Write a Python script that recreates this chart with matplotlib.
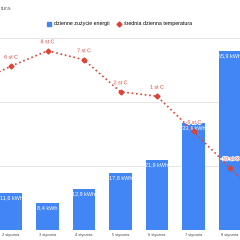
import numpy as np
import matplotlib
matplotlib.use('Agg')
import matplotlib.pyplot as plt
import matplotlib.patheffects as pe
from matplotlib.lines import Line2D
from matplotlib.patches import Patch

plt.rcParams['font.family'] = ['Liberation Sans', 'DejaVu Sans']

# data
dni = ['2 stycznia', '3 stycznia', '4 stycznia', '5 stycznia',
       '6 stycznia', '7 stycznia', '8 stycznia']
zuzycie = [11.6, 8.4, 12.9, 17.8, 21.9, 33.4, 55.9]
# temperature line runs one day past each edge of the crop
dni_temp = ['1 stycznia'] + dni + ['9 stycznia']
temperatura = [2.9, 5.6, 8.0, 6.6, 1.6, 0.9, -4.6, -10.3, -16.0]

BLUE = '#4285f4'
RED = '#db4437'

fig = plt.figure(figsize=(2.4, 2.4), dpi=100)
ax = fig.add_axes([0, 10/240, 1, 192/240])

x = np.arange(len(dni))
ax.bar(x, zuzycie, width=0.63, color=BLUE, zorder=2)
for xi, v in zip(x, zuzycie):
    ax.annotate(f'{v:.1f} kWh'.replace('.', ','), (xi, v), xytext=(0, -3.6),
                textcoords='offset points', ha='center', va='center',
                color='white', fontsize=4, zorder=3)

ax.set_ylim(0, 60)
ax.set_yticks([0, 20, 40, 60])
ax.set_xlim(-11/36.5, 229/36.5)
ax.set_xticks(x)
ax.set_xticklabels(dni, fontsize=2.8, color='#444444')
ax.tick_params(length=0, pad=2.5)
ax.tick_params(axis='y', labelleft=False)
ax.grid(axis='y', color='#e6e6e6', lw=0.7, zorder=0)
for s in ax.spines.values():
    s.set_visible(False)

ax2 = ax.twinx()
ax2.set_ylim(-20, 10)
ax2.set_yticks([])
for s in ax2.spines.values():
    s.set_visible(False)
xt = np.arange(-1, len(dni) + 1)
ax2.plot(xt, temperatura, color=RED, ls=':', lw=1.2, marker='D', ms=2.5)
for xi, t in zip(xt, temperatura):
    ax2.annotate(f'{t:.0f} st C', (xi, t), xytext=(0, 6.5),
                 textcoords='offset points', ha='center', va='center',
                 color=RED, fontsize=3.8,
                 path_effects=[pe.withStroke(linewidth=1.2, foreground='white')])

fig.text(0.002, 1 - 8/240, 'tura', fontsize=4.5, color='#757575', va='center')

handles = [Patch(color=BLUE), Line2D([], [], color=RED, ls='none', marker='D', ms=2.5)]
fig.legend(handles, ['dzienne zużycie energii', 'średnia dzienna temperatura'],
           loc='center left', bbox_to_anchor=(47/240, 1 - 24/240), ncol=2,
           frameon=False, fontsize=3.8, handlelength=0.8, handleheight=0.8,
           handletextpad=0.5, columnspacing=1.4, borderpad=0, borderaxespad=0)

fig.savefig('out.png', dpi=100)
